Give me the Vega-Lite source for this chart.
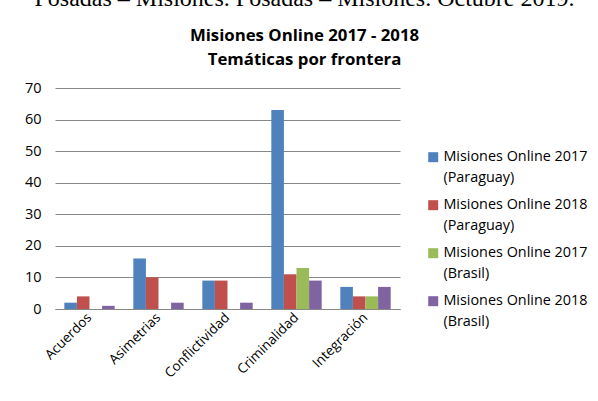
{
  "$schema": "https://vega.github.io/schema/vega-lite/v6.json",
  "width": 345,
  "height": 221,
  "autosize": "none",
  "padding": {"left": 55, "top": 88, "right": 198, "bottom": 92},
  "background": "white",
  "title": {
    "text": "Posadas – Misiones. Posadas – Misiones. Octubre 2019.",
    "subtitle": ["Misiones Online 2017 - 2018", "Temáticas por frontera"],
    "font": "Liberation Serif",
    "fontSize": 24,
    "fontWeight": "normal",
    "color": "#000",
    "subtitleFont": "Open Sans",
    "subtitleFontSize": 16.8,
    "subtitleFontWeight": "bold",
    "subtitleColor": "#000",
    "subtitleLineHeight": 24,
    "subtitlePadding": 17,
    "anchor": "middle",
    "dx": 77,
    "offset": 11
  },
  "data": {
    "values": [
      {"tema": "Acuerdos", "serie": "Misiones Online 2017|(Paraguay)", "valor": 2},
      {"tema": "Acuerdos", "serie": "Misiones Online 2018|(Paraguay)", "valor": 4},
      {"tema": "Acuerdos", "serie": "Misiones Online 2017|(Brasil)", "valor": 0},
      {"tema": "Acuerdos", "serie": "Misiones Online 2018|(Brasil)", "valor": 1},
      {"tema": "Asimetrias", "serie": "Misiones Online 2017|(Paraguay)", "valor": 16},
      {"tema": "Asimetrias", "serie": "Misiones Online 2018|(Paraguay)", "valor": 10},
      {"tema": "Asimetrias", "serie": "Misiones Online 2017|(Brasil)", "valor": 0},
      {"tema": "Asimetrias", "serie": "Misiones Online 2018|(Brasil)", "valor": 2},
      {"tema": "Conflictividad", "serie": "Misiones Online 2017|(Paraguay)", "valor": 9},
      {"tema": "Conflictividad", "serie": "Misiones Online 2018|(Paraguay)", "valor": 9},
      {"tema": "Conflictividad", "serie": "Misiones Online 2017|(Brasil)", "valor": 0},
      {"tema": "Conflictividad", "serie": "Misiones Online 2018|(Brasil)", "valor": 2},
      {"tema": "Criminalidad", "serie": "Misiones Online 2017|(Paraguay)", "valor": 63},
      {"tema": "Criminalidad", "serie": "Misiones Online 2018|(Paraguay)", "valor": 11},
      {"tema": "Criminalidad", "serie": "Misiones Online 2017|(Brasil)", "valor": 13},
      {"tema": "Criminalidad", "serie": "Misiones Online 2018|(Brasil)", "valor": 9},
      {"tema": "Integración", "serie": "Misiones Online 2017|(Paraguay)", "valor": 7},
      {"tema": "Integración", "serie": "Misiones Online 2018|(Paraguay)", "valor": 4},
      {"tema": "Integración", "serie": "Misiones Online 2017|(Brasil)", "valor": 4},
      {"tema": "Integración", "serie": "Misiones Online 2018|(Brasil)", "valor": 7}
    ]
  },
  "mark": {"type": "bar"},
  "encoding": {
    "x": {
      "field": "tema",
      "type": "nominal",
      "sort": null,
      "title": null,
      "scale": {"paddingInner": 0.27, "paddingOuter": 0.135},
      "axis": {
        "labelAngle": -45,
        "labelAlign": "right",
        "labelBaseline": "middle",
        "labelFont": "Open Sans",
        "labelFontSize": 13.5,
        "labelColor": "#000",
        "labelPadding": 6,
        "ticks": false,
        "domainColor": "#888",
        "grid": false
      }
    },
    "xOffset": {
      "field": "serie",
      "type": "nominal",
      "sort": null,
      "scale": {"paddingInner": 0, "paddingOuter": 0}
    },
    "y": {
      "field": "valor",
      "type": "quantitative",
      "title": null,
      "scale": {"domain": [0, 70], "nice": false},
      "axis": {
        "values": [0, 10, 20, 30, 40, 50, 60, 70],
        "labelFont": "Open Sans",
        "labelFontSize": 14.5,
        "labelColor": "#000",
        "labelPadding": 14,
        "ticks": false,
        "domain": false,
        "gridColor": "#888",
        "gridOpacity": 1
      }
    },
    "color": {
      "field": "serie",
      "type": "nominal",
      "sort": null,
      "scale": {"range": ["#4F81BD", "#C0504D", "#9BBB59", "#8064A2"]},
      "legend": {
        "title": null,
        "orient": "none",
        "legendX": 371,
        "legendY": 62,
        "labelExpr": "split(datum.label, '|')",
        "labelFont": "Open Sans",
        "labelFontSize": 14.4,
        "labelColor": "#000",
        "labelBaseline": "middle",
        "labelOffset": 3,
        "labelLimit": 220,
        "symbolType": "square",
        "symbolSize": 100,
        "symbolStrokeWidth": 0,
        "rowPadding": 12
      }
    }
  },
  "config": {
    "view": {"stroke": null},
    "style": {"guide-label": {"lineHeight": 21}}
  }
}
